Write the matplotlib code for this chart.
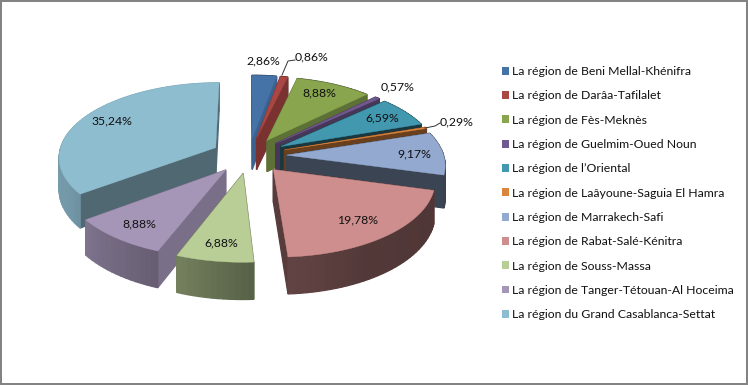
import numpy as np
import matplotlib
matplotlib.use("Agg")
import matplotlib.pyplot as plt
from matplotlib.patches import Polygon, Patch, Rectangle

regions = ["La région de Beni Mellal-Khénifra", "La région de Darâa-Tafilalet", "La région de Fès-Meknès",
           "La région de Guelmim-Oued Noun", "La région de l’Oriental", "La région de Laâyoune-Saguia El Hamra",
           "La région de Marrakech-Safi", "La région de Rabat-Salé-Kénitra", "La région de Souss-Massa",
           "La région de Tanger-Tétouan-Al Hoceima", "La région du Grand Casablanca-Settat"]
shares = [2.86, 0.86, 8.88, 0.57, 6.59, 0.29, 9.17, 19.78, 6.88, 8.88, 35.24]
labels = ["2,86%", "0,86%", "8,88%", "0,57%", "6,59%", "0,29%", "9,17%", "19,78%", "6,88%", "8,88%", "35,24%"]
colors = ["#4573a7", "#aa4644", "#89a54e", "#71588f", "#4298af", "#db843d", "#93a9cf", "#ce8e8d", "#b9cd96", "#a596b8", "#8fbdd0"]
cut_shade = [0.85, 0.72, 0.68, 0.62, 0.36, 0.48, 0.40, 0.42, 0.55, 0.74, 0.55]

plt.rcParams['font.family'] = ['Lato', 'DejaVu Sans']
fig = plt.figure(figsize=(7.48, 3.85), dpi=100, facecolor="white")
ax = fig.add_axes([0, 0, 1, 1])
ax.set_xlim(0, 748); ax.set_ylim(385, 0); ax.axis("off")

CX, CY, RX, RY, K, DEPTH, EXPLODE = 249, 155.5, 157, 74, 0.115, 32, 0.24

def project(u, v, down=0.0):
    s = 1 / (1 - K * v)
    return CX + RX * u * s, CY + RY * v * s + down * s

def shade(col, f):
    r, g, b = matplotlib.colors.to_rgb(col)
    return (r * f, g * f, b * f)

def wall_factor(theta):
    d = np.degrees(theta) % 360
    return float(np.interp(d, [90, 150, 178, 200, 240, 300], [0.38, 0.40, 0.48, 0.62, 0.8, 0.88]))

total = sum(shares)
fracs = np.array(shares) / total
ends = np.cumsum(fracs) * 2 * np.pi
starts = ends - fracs * 2 * np.pi
mids = (starts + ends) / 2

order = sorted(range(len(shares)), key=lambda i: -np.cos(mids[i]) * (EXPLODE + 0.6))
for i in order:
    tu, tv = EXPLODE * np.sin(mids[i]), -EXPLODE * np.cos(mids[i])
    th = np.linspace(starts[i], ends[i], max(4, int(np.degrees(ends[i] - starts[i]) / 2) + 2))
    us, vs = tu + np.sin(th), tv - np.cos(th)
    top = [project(tu, tv)] + [project(a, b) for a, b in zip(us, vs)]
    faces = []
    for a, b in ((us[0], vs[0]), (us[-1], vs[-1])):
        poly = [project(tu, tv), project(a, b), project(a, b, DEPTH), project(tu, tv, DEPTH)]
        faces.append((np.mean([p[1] for p in poly]), poly, shade(colors[i], cut_shade[i])))
    for j in range(len(th) - 1):
        p, q = (us[j], vs[j]), (us[j + 1], vs[j + 1])
        poly = [project(*p), project(*q), project(*q, DEPTH), project(*p, DEPTH)]
        faces.append((np.mean([pt[1] for pt in poly]), poly, shade(colors[i], wall_factor((th[j] + th[j + 1]) / 2))))
    for _, poly, c in sorted(faces, key=lambda x: x[0]):
        ax.add_patch(Polygon(poly, closed=True, facecolor=c, edgecolor=c, lw=0.9))
    ax.add_patch(Polygon(top, closed=True, facecolor=colors[i], edgecolor=colors[i], lw=0.3))

label_xy = [(263, 61), (312, 57), (319, 93), (398, 87), (382, 118), (457, 122), (414, 154), (358, 220), (221, 243), (139, 224), (112, 121)]
for s, (x, y) in zip(labels, label_xy):
    ax.text(x, y, s, ha="center", va="center", fontsize=8.8, color="#111111")
ax.plot([282, 288, 295], [75, 61, 60], color="#333333", lw=0.7)
ax.plot([425, 435, 440], [128, 126, 123], color="#333333", lw=0.7)

ax.add_patch(Rectangle((0.7, 0.5), 746.5, 383.7, fill=False, edgecolor="#808080", lw=1.4))

handles = [Patch(facecolor=c, edgecolor="none") for c in colors]
ax.legend(handles, regions, loc="upper left", bbox_to_anchor=(502 / 748, 1 - 66 / 385), frameon=False,
          fontsize=8.8, labelspacing=1.09, handlelength=0.6, handleheight=0.6, handletextpad=0.22,
          borderpad=0, borderaxespad=0, labelcolor="#111111")
fig.savefig("out.png", dpi=100, facecolor="white")
